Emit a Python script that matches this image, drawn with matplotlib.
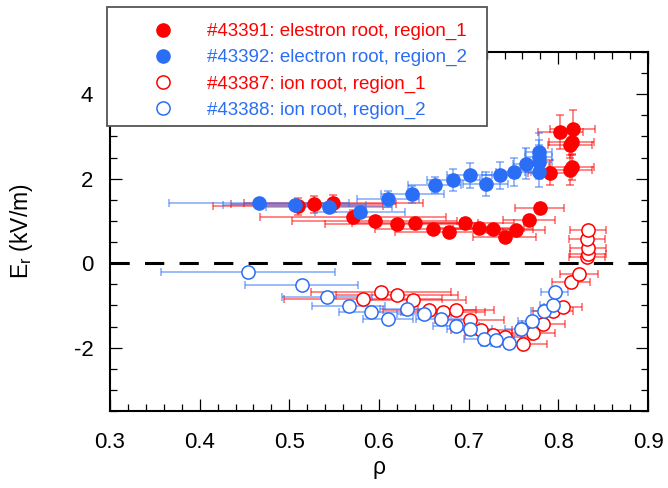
import matplotlib
matplotlib.use("Agg")
import matplotlib.pyplot as plt
from matplotlib.lines import Line2D
from matplotlib.patches import Rectangle
from matplotlib.colors import to_rgba
from matplotlib.ticker import MultipleLocator

plt.rcParams['font.family'] = ['Liberation Sans', 'DejaVu Sans']
plt.rcParams['mathtext.fontset'] = 'custom'
plt.rcParams['mathtext.rm'] = 'Liberation Sans'

RED = "#ff0000"
BLUE = "#2a6ef5"

# #43391 electron root, region_1 (red filled)
e1_x = [0.510, 0.527, 0.549, 0.571, 0.595, 0.620, 0.640, 0.660, 0.678, 0.696, 0.712, 0.727,
        0.740, 0.753, 0.767, 0.779, 0.791, 0.802, 0.816, 0.813, 0.815, 0.813, 0.815]
e1_y = [1.35, 1.39, 1.42, 1.10, 1.00, 0.92, 0.95, 0.80, 0.75, 0.96, 0.83, 0.81,
        0.61, 0.79, 1.02, 1.30, 2.14, 3.10, 3.17, 2.80, 2.88, 2.20, 2.27]
e1_xerr = [0.095, 0.092, 0.10, 0.104, 0.092, 0.08, 0.07, 0.065, 0.06, 0.055, 0.05, 0.045,
           0.035, 0.032, 0.029, 0.027, 0.025, 0.025, 0.025, 0.025, 0.025, 0.025, 0.025]
e1_yerr = [0.2, 0.2, 0.2, 0.15, 0.1, 0.1, 0.1, 0.1, 0.1, 0.1, 0.1, 0.1,
           0.1, 0.1, 0.1, 0.12, 0.3, 0.4, 0.45, 0.3, 0.3, 0.35, 0.3]

# #43392 electron root, region_2 (blue filled)
e2_x = [0.466, 0.506, 0.544, 0.579, 0.610, 0.637, 0.662, 0.683, 0.701, 0.719, 0.735, 0.750,
        0.764, 0.778, 0.778, 0.778, 0.778]
e2_y = [1.43, 1.38, 1.34, 1.20, 1.52, 1.63, 1.85, 1.97, 2.08, 1.87, 2.08, 2.16,
        2.36, 2.64, 2.52, 2.40, 2.17]
e2_xerr = [0.10, 0.08, 0.07, 0.05, 0.035, 0.035, 0.03, 0.03, 0.025, 0.025, 0.02, 0.02,
           0.015, 0.015, 0.015, 0.015, 0.015]
e2_yerr = [0.04, 0.05, 0.08, 0.1, 0.18, 0.2, 0.2, 0.26, 0.3, 0.29, 0.32, 0.33,
           0.37, 0.45, 0.4, 0.4, 0.36]

# #43387 ion root, region_1 (red open)
i1_x = [0.582, 0.602, 0.620, 0.638, 0.656, 0.671, 0.686, 0.701, 0.714, 0.727, 0.740, 0.761,
        0.772, 0.783, 0.794, 0.805, 0.814, 0.823, 0.832, 0.833, 0.833, 0.832, 0.833]
i1_y = [-0.84, -0.69, -0.75, -0.87, -1.10, -1.15, -1.10, -1.34, -1.58, -1.70, -1.75, -1.91,
        -1.65, -1.43, -1.14, -1.03, -0.45, -0.25, 0.14, 0.22, 0.37, 0.57, 0.79]
i1_xerr = [0.088, 0.078, 0.068, 0.059, 0.052, 0.047, 0.042, 0.038, 0.034, 0.031, 0.029, 0.026,
           0.024, 0.024, 0.022, 0.021, 0.021, 0.021, 0.02, 0.02, 0.02, 0.02, 0.02]
i1_yerr = [0.06, 0.06, 0.06, 0.08, 0.08, 0.08, 0.08, 0.1, 0.1, 0.1, 0.1, 0.12,
           0.12, 0.1, 0.1, 0.1, 0.08, 0.08, 0.08, 0.08, 0.08, 0.08, 0.08]

# #43388 ion root, region_2 (blue open)
i2_x = [0.454, 0.514, 0.542, 0.566, 0.591, 0.610, 0.631, 0.650, 0.669, 0.686, 0.701, 0.717,
        0.731, 0.745, 0.758, 0.771, 0.784, 0.794, 0.796]
i2_y = [-0.22, -0.51, -0.80, -1.01, -1.16, -1.32, -1.09, -1.20, -1.32, -1.48, -1.56, -1.80,
        -1.81, -1.88, -1.56, -1.36, -1.14, -0.99, -0.69]
i2_xerr = [0.097, 0.063, 0.05, 0.041, 0.036, 0.028, 0.03, 0.03, 0.028, 0.026, 0.025, 0.022,
           0.02, 0.02, 0.018, 0.016, 0.015, 0.015, 0.015]
i2_yerr = [0.03, 0.03, 0.05, 0.08, 0.1, 0.1, 0.1, 0.1, 0.12, 0.12, 0.12, 0.15,
           0.15, 0.15, 0.15, 0.12, 0.12, 0.1, 0.1]

labels = ["#43391: elestron root, region_1", "#43392: electron root, region_2",
          "#43387: ion root, region_1", "#43388: ion root, region_2"]

fig = plt.figure(figsize=(6.68, 4.88), dpi=100)
ax = fig.add_axes([110 / 668, 77 / 488, 538 / 668, 359 / 488])

ax.axhline(0, color="black", lw=2.2, dashes=(6.3, 5), zorder=1)

ms = 9.5
common = dict(fmt="o", ms=ms, capsize=3, elinewidth=1.1, capthick=1.1, zorder=3)
ax.errorbar(i1_x, i1_y, xerr=i1_xerr, yerr=i1_yerr, mfc="white", mec=RED, mew=1.1,
            ecolor=to_rgba(RED, 0.6), **common)
ax.errorbar(i2_x, i2_y, xerr=i2_xerr, yerr=i2_yerr, mfc="white", mec=BLUE, mew=1.1,
            ecolor=to_rgba(BLUE, 0.6), **common)
ax.errorbar(e1_x, e1_y, xerr=e1_xerr, yerr=e1_yerr, color=RED, mec=RED,
            ecolor=to_rgba(RED, 0.6), **common)
ax.errorbar(e2_x, e2_y, xerr=e2_xerr, yerr=e2_yerr, color=BLUE, mec=BLUE,
            ecolor=to_rgba(BLUE, 0.6), **common)

ax.set_xlim(0.3, 0.9)
ax.set_ylim(-3.5, 5)
ax.xaxis.set_major_locator(MultipleLocator(0.1))
ax.xaxis.set_minor_locator(MultipleLocator(0.02))
ax.yaxis.set_major_locator(MultipleLocator(2))
ax.yaxis.set_minor_locator(MultipleLocator(0.5))
ax.set_yticks([-2, 0, 2, 4])
ax.set_yticklabels(["-2", "0", "2", "4"])
ax.tick_params(which="both", direction="in", top=True, right=True, width=0.9, labelsize=16)
ax.tick_params(which="major", length=8.5)
ax.tick_params(which="minor", length=5)
ax.tick_params(axis="x", pad=15)
ax.tick_params(axis="y", pad=12)
for s in ax.spines.values():
    s.set_linewidth(1.5)

ax.set_xlabel("ρ", fontsize=16.5)
ax.xaxis.set_label_coords(0.5, -0.125)
ax.set_ylabel(r"E$_\mathregular{r}$ (kV/m)", fontsize=16.5)
ax.yaxis.set_label_coords(-0.139, 0.5)

# legend box drawn over the axes corner
box = Rectangle((107 / 668, 1 - 126 / 488), 380 / 668, 119 / 488, transform=fig.transFigure,
                fc="white", ec="#555555", lw=1.3, zorder=4)
fig.add_artist(box)

handles = [
    Line2D([], [], ls="none", marker="o", ms=ms, color=RED),
    Line2D([], [], ls="none", marker="o", ms=ms, color=BLUE),
    Line2D([], [], ls="none", marker="o", ms=ms, mfc="white", mec=RED, mew=1.1),
    Line2D([], [], ls="none", marker="o", ms=ms, mfc="white", mec=BLUE, mew=1.1),
]
leg = fig.legend(handles, labels, loc="upper left", bbox_to_anchor=(144 / 668, 1 - 23 / 488),
                 frameon=False, fontsize=13.5, borderpad=0, borderaxespad=0,
                 handlelength=2, handletextpad=1.35, labelspacing=0.47)
leg.set_zorder(5)
for t, c in zip(leg.get_texts(), [RED, BLUE, RED, BLUE]):
    t.set_color(c)

fig.savefig("out.png", dpi=100)
